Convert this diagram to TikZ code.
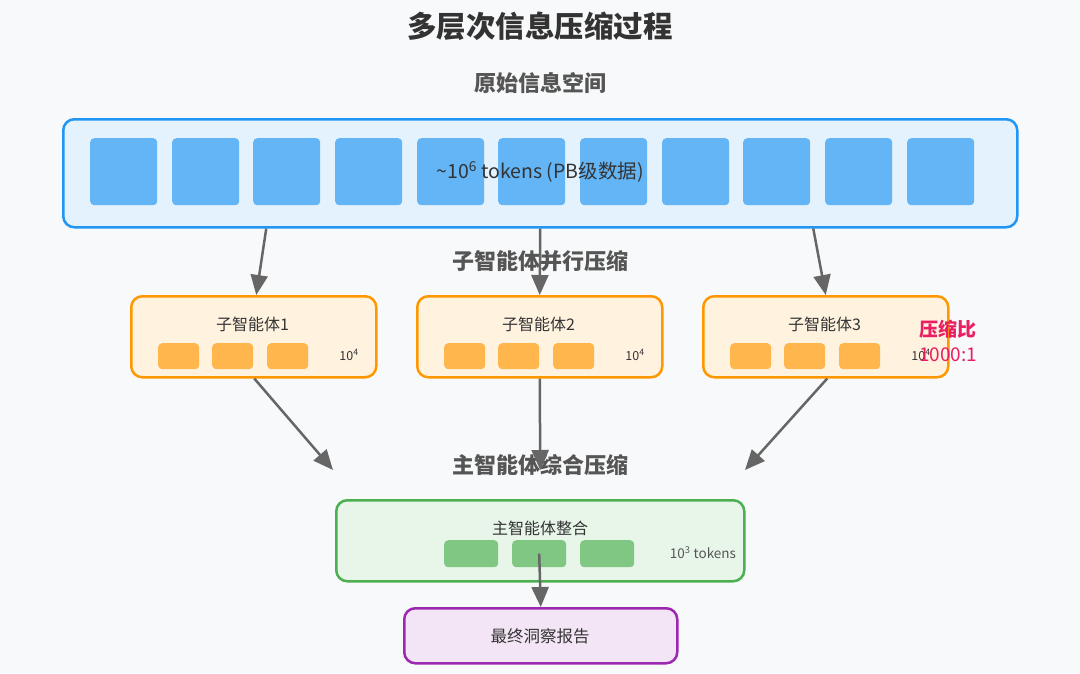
\documentclass[tikz,border=0pt]{standalone}
\usepackage{fontspec}
\setmainfont{Noto Sans CJK SC}
\usetikzlibrary{arrows.meta,calc}
\definecolor{bg}{HTML}{F8F9FA}
\definecolor{tdark}{HTML}{333333}
\definecolor{tmid}{HTML}{555555}
\definecolor{bluefill}{HTML}{E3F2FD}
\definecolor{bluedraw}{HTML}{2196F3}
\definecolor{bluesq}{HTML}{64B5F6}
\definecolor{orfill}{HTML}{FFF3E0}
\definecolor{ordraw}{HTML}{FF9800}
\definecolor{orsq}{HTML}{FFB74D}
\definecolor{grfill}{HTML}{E8F5E9}
\definecolor{grdraw}{HTML}{4CAF50}
\definecolor{grsq}{HTML}{81C784}
\definecolor{pufill}{HTML}{F3E5F5}
\definecolor{pudraw}{HTML}{9C27B0}
\definecolor{pink}{HTML}{E91E63}
\definecolor{arr}{HTML}{666666}
\tikzset{
  panel/.style={draw, line width=2.5pt, rounded corners=11pt, inner sep=0pt, anchor=north west},
  sq/.style={rounded corners=4pt, inner sep=0pt, anchor=north west},
  sectlabel/.style={font=\fontsize{22}{26}\selectfont\bfseries, text=tmid},
  flow/.style={draw=arr, line width=2.5pt, -{Triangle[length=20pt,width=17pt]}},
}
\begin{document}
\begin{tikzpicture}[x=1pt,y=-1pt]
\fill[bg] (0,0) rectangle (1080,673);
\useasboundingbox (0,0) rectangle (1080,673);

\node[font=\fontsize{29.5}{34}\selectfont\bfseries, text=tdark] (title) at (540,26) {多层次信息压缩过程};
\node[sectlabel] (lab0) at (540,83) {原始信息空间};

% raw space
\node[panel, fill=bluefill, draw=bluedraw, minimum width=954pt, minimum height=108pt] (raw) at (62,118) {};
\foreach \i [count=\k] in {90,172,253,335,417,498,580,662,743,825,907}
  \node[sq, fill=bluesq, minimum width=67pt, minimum height=67pt] (b\k) at (\i,138) {};
\node[font=\fontsize{19.5}{23}\selectfont, text=tdark] (rawtxt) at (540,172) {\textasciitilde10\textsuperscript{6} tokens (PB级数据)};

\node[sectlabel] (lab1) at (540,261) {子智能体并行压缩};

% sub agents
\foreach \n/\x in {1/130,2/416,3/702}{
  \node[panel, fill=orfill, draw=ordraw, minimum width=245pt, minimum height=81pt] (sub\n) at (\x,295) {};
  \node[font=\fontsize{16}{19}\selectfont, text=tdark] (subl\n) at ($(sub\n.north west)+(122.5,29)$) {子智能体\n};
  \node[sq, fill=orsq, minimum width=41pt, minimum height=26pt] (s\n a) at ($(sub\n.north west)+(28,48)$) {};
  \node[sq, fill=orsq, minimum width=41pt, minimum height=26pt] (s\n b) at ($(sub\n.north west)+(82,48)$) {};
  \node[sq, fill=orsq, minimum width=41pt, minimum height=26pt] (s\n c) at ($(sub\n.north west)+(137,48)$) {};
  \node[font=\fontsize{12.5}{15}\selectfont, text=tdark] (sn\n) at ($(sub\n.north west)+(219,60)$) {10\textsuperscript{4}};
}
\node[font=\fontsize{19}{22}\selectfont\bfseries, text=pink] (ratio) at (948,329) {压缩比};
\node[font=\fontsize{19}{22}\selectfont, text=pink] (ratiov) at (948,355) {1000:1};

\node[sectlabel] (lab2) at (540,465) {主智能体综合压缩};

% main agent
\node[panel, fill=grfill, draw=grdraw, minimum width=408pt, minimum height=81pt] (main) at (335,499) {};
\node[font=\fontsize{16}{19}\selectfont, text=tdark] (mainl) at (540,528) {主智能体整合};
\foreach \i [count=\k] in {444,512,580}
  \node[sq, fill=grsq, minimum width=54pt, minimum height=27pt] (g\k) at (\i,540) {};
\node[font=\fontsize{13.5}{16}\selectfont, text=tmid] (maint) at (703,553) {10\textsuperscript{3} tokens};

% final
\node[panel, fill=pufill, draw=pudraw, minimum width=273pt, minimum height=55pt] (final) at (403,607) {};
\node[font=\fontsize{16.5}{19}\selectfont, text=tdark] (finall) at (540,636) {最终洞察报告};

% connectors
\coordinate (m1) at (333,470);
\coordinate (m3) at (745,470);
\draw[flow] ([xshift=-274pt]raw.south) -- ([xshift=2.5pt]sub1.north);
\draw[flow] (raw.south) -- (sub2.north);
\draw[flow] ([xshift=273pt]raw.south) -- (sub3.north);
\draw[flow] ([xshift=0.5pt]sub1.south) -- (m1);
\draw[flow] (sub2.south) -- ([yshift=29pt]main.north);
\draw[flow] ([xshift=1.5pt]sub3.south) -- (m3);
\draw[flow] (g2.center) -- (final.north);
\end{tikzpicture}
\end{document}
